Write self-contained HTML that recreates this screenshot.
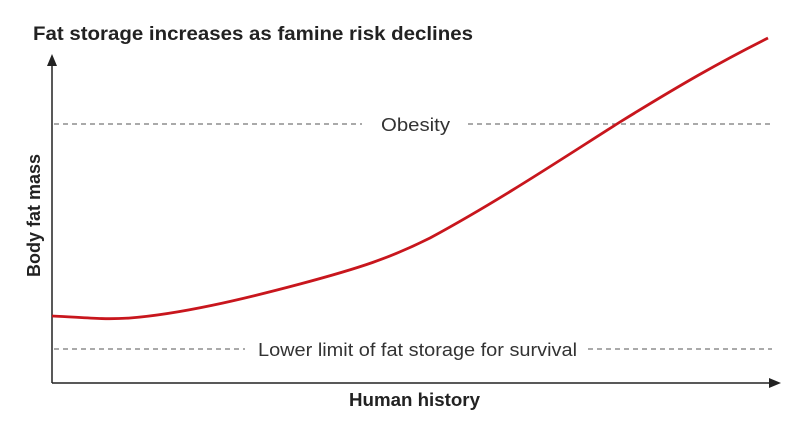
<!DOCTYPE html>
<html><head><meta charset="utf-8"><style>body{margin:0;background:#fff}svg{display:block}</style></head>
<body>
<svg width="800" height="423" xmlns="http://www.w3.org/2000/svg" font-family="Liberation Sans, sans-serif">
<text x="33" y="40" font-size="19" font-weight="bold" fill="#222" textLength="440" lengthAdjust="spacingAndGlyphs">Fat storage increases as famine risk declines</text>
<g stroke="#777" stroke-width="1.2" stroke-dasharray="5,4">
<line x1="54" y1="124" x2="362" y2="124"/><line x1="468" y1="124" x2="772" y2="124"/>
<line x1="54" y1="349" x2="245" y2="349"/><line x1="588" y1="349" x2="772" y2="349"/>
</g>
<text x="381" y="131" font-size="18" fill="#333" textLength="69" lengthAdjust="spacingAndGlyphs">Obesity</text>
<text x="258" y="356" font-size="18" fill="#333" textLength="319" lengthAdjust="spacingAndGlyphs">Lower limit of fat storage for survival</text>
<g stroke="#222" stroke-width="1.5" fill="none"><line x1="52" y1="383" x2="52" y2="62"/><line x1="52" y1="383" x2="772" y2="383"/></g>
<polygon points="52,54 47,66 57,66" fill="#222"/>
<polygon points="781,383 769,378 769,388" fill="#222"/>
<path d="M52,316 C80,317 100,320 130,318 C180,314 240,300 300,284 C360,268 390,258 430,238 C500,200 560,160 620,122 C680,85 720,62 768,38" stroke="#c8161d" stroke-width="2.8" fill="none"/>
<text x="349" y="406" font-size="18" font-weight="bold" fill="#222" textLength="131" lengthAdjust="spacingAndGlyphs">Human history</text>
<text transform="translate(40,277) rotate(-90)" font-size="18" font-weight="bold" fill="#222" textLength="123" lengthAdjust="spacingAndGlyphs">Body fat mass</text>
</svg>
</body></html>
